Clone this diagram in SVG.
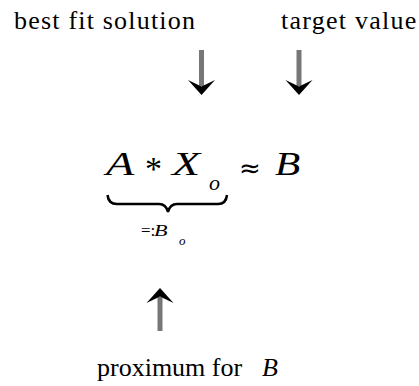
<svg xmlns="http://www.w3.org/2000/svg" width="419" height="386" viewBox="0 0 419 386">
<defs>
<path id="headDown" d="M0,9 L-13.5,-6 L0,0.5 L13.5,-6 Z" fill="#000"/>
</defs>
<rect width="419" height="386" fill="#fff"/>
<g id="node-best-fit">
<text x="14" y="29" font-family="Liberation Serif" font-size="26" fill="#000" letter-spacing="1.2">best fit solution</text>
</g>
<g id="node-target">
<text x="281" y="29" font-family="Liberation Serif" font-size="26" fill="#000" letter-spacing="1.25">target value</text>
</g>
<g id="node-formula">
<text transform="translate(106,175) scale(1.4,1)" font-family="Liberation Serif" font-size="33" font-style="italic" fill="#000">A</text>
<text x="145" y="180" font-family="Liberation Serif" font-size="34" fill="#000">*</text>
<text transform="translate(172,175) scale(1.4,1)" font-family="Liberation Serif" font-size="33" font-style="italic" fill="#000">X</text>
<text x="209" y="190" font-family="Liberation Serif" font-size="22" font-style="italic" fill="#000">o</text>
<text x="239" y="177" font-family="DejaVu Sans, sans-serif" font-size="26" fill="#000">≈</text>
<text transform="translate(275,175) scale(1.25,1)" font-family="Liberation Serif" font-size="33" font-style="italic" fill="#000">B</text>
</g>
<g id="node-brace">
<path d="M107.5,195 Q108.5,204 117,204 L159,204 Q166,204 168,212 Q170,204 177,204 L218,204 Q226,204 227,195" fill="none" stroke="#000" stroke-width="2.5"/>
<text x="141" y="236" font-family="Liberation Serif" font-size="17" fill="#000">=:</text>
<text transform="translate(154,236) scale(1.3,1)" font-family="Liberation Serif" font-size="17" font-style="italic" fill="#000">B</text>
<text x="179" y="245" font-family="Liberation Serif" font-size="13" font-style="italic" fill="#000">o</text>
</g>
<g id="node-proximum">
<text x="97" y="376" font-family="Liberation Serif" font-size="26" fill="#000">proximum for</text>
<text x="262" y="376" font-family="Liberation Serif" font-size="26" font-style="italic" fill="#000">B</text>
</g>
<g id="connectors" stroke="#777" stroke-width="5" fill="none">
<line x1="201.5" y1="50" x2="201.5" y2="86"/>
<use href="#headDown" x="201.5" y="86" stroke="none"/>
<line x1="299" y1="50" x2="299" y2="86"/>
<use href="#headDown" x="299" y="86" stroke="none"/>
<line x1="160" y1="297" x2="160" y2="331"/>
<use href="#headDown" transform="translate(160,297) rotate(180)" stroke="none"/>
</g>
</svg>
